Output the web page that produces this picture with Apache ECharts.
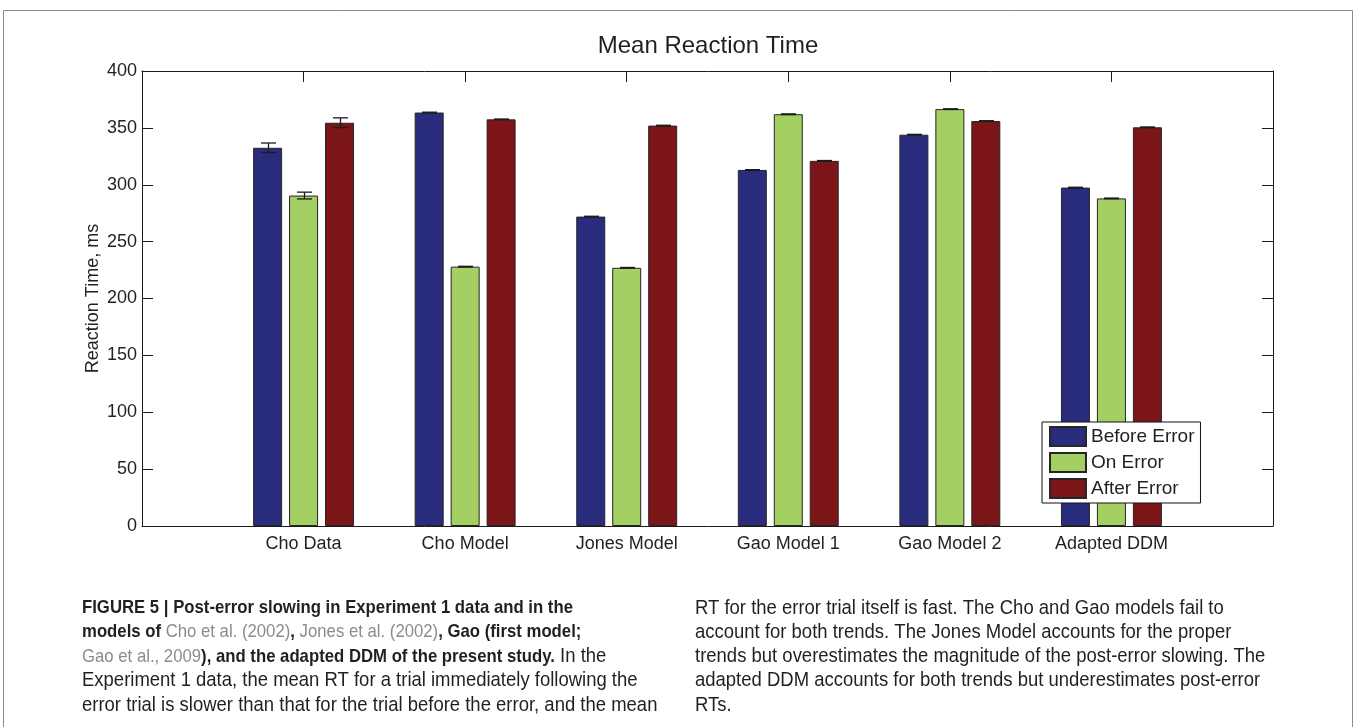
<!DOCTYPE html>
<html>
<head>
<meta charset="utf-8">
<title>Mean Reaction Time</title>
<script src="https://cdn.jsdelivr.net/npm/echarts@6/dist/echarts.min.js"></script>
<style>
  html, body { margin: 0; padding: 0; background: #ffffff; }
  #chart { width: 1354px; height: 727px; }
</style>
</head>
<body>
<div id="chart"></div>
<script>
// ---- data -------------------------------------------------------------
const categories = ['Cho Data', 'Cho Model', 'Jones Model', 'Gao Model 1', 'Gao Model 2', 'Adapted DDM'];
const seriesNames = ['Before Error', 'On Error', 'After Error'];

// mean reaction time, ms
const beforeError = [332.5, 363.5, 272, 313, 344, 297.5];
const onError     = [290.5, 228, 227, 362, 366.5, 288];
const afterError  = [354.5, 357.5, 352, 321, 356, 350.5];

// error bar half-lengths, ms
const beforeErrorSE = [4.2, 0.3, 0.3, 0.3, 0.3, 0.3];
const onErrorSE     = [3.0, 0.3, 0.3, 0.3, 0.3, 0.3];
const afterErrorSE  = [4.3, 0.3, 0.3, 0.3, 0.3, 0.3];

const yMin = 0, yMax = 400, yStep = 50;

// caption text (rich-text markup: b = bold, g = citation, n = normal)
const captionLeft = [
  '{b|FIGURE 5 | Post-error slowing in Experiment 1 data and in the}',
  '{b|models of }{g|Cho et al. (2002)}{b|, }{g|Jones et al. (2002)}{b|, Gao (first model;}',
  '{g|Gao et al., 2009}{b|), and the adapted DDM of the present study.}{n| In the}',
  '{n|Experiment 1 data, the mean RT for a trial immediately following the}',
  '{n|error trial is slower than that for the trial before the error, and the mean}'
];
const captionRight = [
  '{n|RT for the error trial itself is fast. The Cho and Gao models fail to}',
  '{n|account for both trends. The Jones Model accounts for the proper}',
  '{n|trends but overestimates the magnitude of the post-error slowing. The}',
  '{n|adapted DDM accounts for both trends but underestimates post-error}',
  '{n|RTs.}'
];

// ---- styling ----------------------------------------------------------
const FONT = '"Liberation Sans", Arial, Helvetica, sans-serif';
const INK = '#231f20';
const COLORS = ['#292c7d', '#a3cf63', '#7c1517'];
const BAR_W = 29;
const BAR_GAP_RATIO = 0.24;
const STEP = BAR_W * (1 + BAR_GAP_RATIO);
const CAP = 15;

// empty slots at both ends leave one category of margin on each side
const axisData = [''].concat(categories, ['']);
const pad = arr => ['-'].concat(arr, ['-']);
const innerTick = idx => idx > 0 && idx < axisData.length - 1;

function errorBars(offset) {
  return function (params, api) {
    const i = api.value(0), v = api.value(1), e = api.value(2);
    const hi = api.coord([i, v + e]);
    const lo = api.coord([i, v - e]);
    const x = Math.round(hi[0] + offset) + 0.5;
    const st = { stroke: '#1b1b1b', lineWidth: 1.3 };
    return {
      type: 'group',
      children: [
        { type: 'line', shape: { x1: x, y1: hi[1], x2: x, y2: lo[1] }, style: st },
        { type: 'line', shape: { x1: x - CAP / 2, y1: hi[1], x2: x + CAP / 2, y2: hi[1] }, style: st },
        { type: 'line', shape: { x1: x - CAP / 2, y1: lo[1], x2: x + CAP / 2, y2: lo[1] }, style: st }
      ]
    };
  };
}

const means = [beforeError, onError, afterError];
const errs = [beforeErrorSE, onErrorSE, afterErrorSE];

const barSeries = means.map((vals, k) => ({
  name: seriesNames[k],
  type: 'bar',
  data: pad(vals),
  barWidth: BAR_W,
  barGap: (BAR_GAP_RATIO * 100) + '%',
  itemStyle: { color: COLORS[k], borderColor: '#262626', borderWidth: 1 },
  emphasis: { disabled: true },
  z: 2
}));

const errSeries = means.map((vals, k) => ({
  type: 'custom',
  renderItem: errorBars((k - 1) * STEP),
  data: vals.map((v, i) => [i + 1, v, errs[k][i]]),
  encode: { x: 0, y: 1 },
  z: 5,
  silent: true
}));

function captionBlock(lines, left) {
  return lines.map((txt, j) => ({
    type: 'text',
    x: left,
    y: 608 + j * 24.3,
    scaleX: 0.92,
    style: {
      text: txt,
      verticalAlign: 'middle',
      align: 'left',
      rich: {
        b: { fontFamily: FONT, fontSize: 18.2, fontWeight: 'bold', fill: INK },
        g: { fontFamily: FONT, fontSize: 18.2, fill: '#8c8c8c' },
        n: { fontFamily: FONT, fontSize: 20.1, fill: INK }
      }
    }
  }));
}

// box edges: axis lines stay on the grid border (not moved to the zero line)
const axisLineStyle = { show: true, onZero: false, lineStyle: { color: '#1a1a1a', width: 1 } };
const yTickStyle = { show: true, inside: true, length: 11, lineStyle: { color: '#1a1a1a', width: 1 } };
const xTickStyle = { show: true, inside: true, length: 11, interval: innerTick, lineStyle: { color: '#1a1a1a', width: 1 } };

const option = {
  backgroundColor: '#ffffff',
  animation: false,
  title: {
    text: 'Mean Reaction Time',
    left: 708,
    top: 34,
    textAlign: 'center',
    padding: 0,
    textStyle: { fontFamily: FONT, fontSize: 24, fontWeight: 'normal', color: INK }
  },
  grid: { left: 142, top: 71, width: 1131, height: 455, containLabel: false },
  legend: {
    data: seriesNames,
    orient: 'vertical',
    left: 1042,
    top: 422,
    itemWidth: 36,
    itemHeight: 19,
    itemGap: 5,
    padding: [4, 6, 4, 7],
    icon: 'rect',
    selectedMode: false,
    backgroundColor: '#ffffff',
    borderColor: '#111111',
    borderWidth: 1,
    textStyle: { fontFamily: FONT, fontSize: 19, color: INK }
  },
  xAxis: [
    {
      type: 'category',
      data: axisData,
      boundaryGap: false,
      axisLine: axisLineStyle,
      axisTick: xTickStyle,
      axisLabel: { interval: 0, margin: 9, fontFamily: FONT, fontSize: 18, color: INK },
      splitLine: { show: false }
    },
    {
      type: 'category',
      data: axisData,
      position: 'top',
      boundaryGap: false,
      axisLine: axisLineStyle,
      axisTick: xTickStyle,
      axisLabel: { show: false },
      splitLine: { show: false }
    }
  ],
  yAxis: [
    {
      type: 'value',
      min: yMin, max: yMax, interval: yStep,
      name: 'Reaction Time, ms',
      nameLocation: 'middle',
      nameGap: 40,
      nameMoveOverlap: false,
      nameTextStyle: { fontFamily: FONT, fontSize: 18, color: INK },
      axisLine: axisLineStyle,
      axisTick: yTickStyle,
      axisLabel: { margin: 5, fontFamily: FONT, fontSize: 18, color: INK, showMinLabel: true, showMaxLabel: true },
      splitLine: { show: false }
    },
    {
      type: 'value',
      min: yMin, max: yMax, interval: yStep,
      position: 'right',
      axisLine: axisLineStyle,
      axisTick: yTickStyle,
      axisLabel: { show: false },
      splitLine: { show: false }
    }
  ],
  graphic: [
    {
      type: 'rect',
      shape: { x: 3.5, y: 10.5, width: 1349, height: 760 },
      style: { fill: 'none', stroke: '#8a8a8a', lineWidth: 1 },
      silent: true,
      z: -1
    }
  ].concat(captionBlock(captionLeft, 82), captionBlock(captionRight, 695)),
  series: barSeries.concat(errSeries)
};

const chart = echarts.init(document.getElementById('chart'), null, { renderer: 'canvas' });
chart.setOption(option);
</script>
</body>
</html>
